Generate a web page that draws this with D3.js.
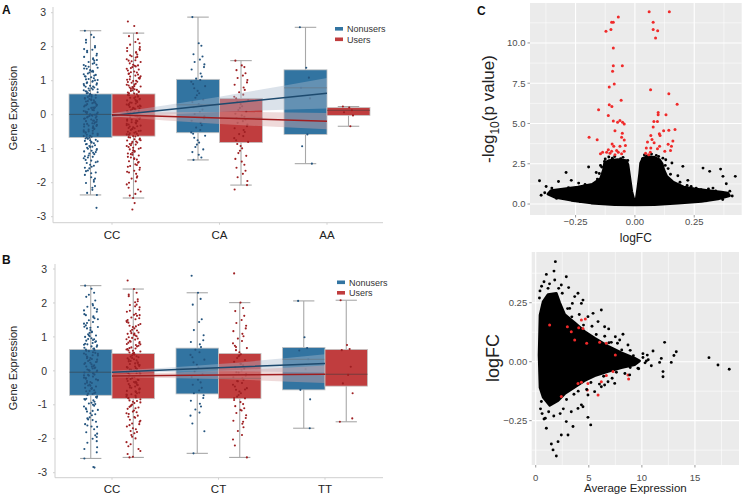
<!DOCTYPE html>
<html><head><meta charset="utf-8">
<script src="https://cdn.jsdelivr.net/npm/d3@7"></script>
<style>body{margin:0;background:#fff}text{font-family:"Liberation Sans",Arial,sans-serif}</style>
</head><body><svg id="c" width="748" height="502"></svg>
<script>
// ---------------- DATA ----------------
const catsA = ["CC","CA","AA"];
const catsB = ["CC","CT","TT"];
const seriesNames = ["Nonusers","Users"];
const boxTicks = [-3,-2,-1,0,1,2,3];

// box stats: [whiskerLow, q1, median, q3, whiskerHigh]
const statsANon = [[-2.36,-0.67,0.01,0.61,2.47],[-1.33,-0.53,0.29,1.04,2.87],[-1.44,-0.58,0.79,1.32,2.57]];
const statsAUsr = [[-2.45,-0.63,0.00,0.61,2.40],[-2.07,-0.82,-0.10,0.48,1.59],[-0.34,-0.02,0.13,0.21,0.24]];
const statsBNon = [[-2.58,-0.72,-0.04,0.63,2.51],[-2.43,-0.68,0.05,0.67,2.30],[-1.69,-0.56,0.34,0.69,2.06]];
const statsBUsr = [[-2.55,-0.82,-0.15,0.51,2.41],[-2.55,-0.82,-0.22,0.51,2.01],[-1.50,-0.45,-0.10,0.63,2.08]];

// individual expression values (strip points)
const ccNonA = [2.47,2.35,2.28,2.12,1.98,1.91,1.84,1.79,1.74,1.70,1.63,1.59,1.55,1.50,1.46,1.43,1.38,1.35,1.31,1.27,1.24,1.21,1.17,1.13,1.10,1.07,1.04,1.01,0.97,0.95,0.92,0.88,0.86,0.83,0.80,0.77,0.74,0.72,0.69,0.66,0.63,0.61,0.58,0.55,0.52,0.50,0.47,0.45,0.42,0.39,0.37,0.34,0.31,0.29,0.26,0.24,0.21,0.19,0.16,0.14,0.11,0.09,0.06,0.04,0.01,-0.01,-0.04,-0.06,-0.09,-0.11,-0.14,-0.17,-0.19,-0.22,-0.25,-0.27,-0.30,-0.33,-0.35,-0.38,-0.41,-0.44,-0.47,-0.50,-0.53,-0.56,-0.59,-0.62,-0.65,-0.68,-0.71,-0.74,-0.77,-0.80,-0.84,-0.87,-0.90,-0.94,-0.97,-1.01,-1.04,-1.08,-1.12,-1.16,-1.20,-1.24,-1.28,-1.33,-1.38,-1.42,-1.47,-1.53,-1.58,-1.64,-1.70,-1.77,-1.84,-1.92,-2.01,-2.10,-2.21,-2.30,-2.36,-2.74,1.93,1.66,1.52,1.41,1.29,1.19,1.12,1.02,0.93,0.85,0.78,0.71,0.64,0.57,0.49,0.43,0.36,0.28,0.22,0.15,0.08,0.02,-0.05,-0.12,-0.18,-0.26,-0.32,-0.39,-0.46,-0.52,-0.60,-0.67,-0.75,-0.82,-0.92,-1.00,-1.10,-1.22,-1.35,-1.50,-1.66,-1.88,-2.15,1.88,1.61,1.47,1.36,1.26,1.15,1.05,0.99,0.90,0.82,0.75,0.68,0.60,0.53,0.46,0.40,0.33,0.27,0.20,0.13,0.07,0.00,-0.03,-0.08,-0.15,-0.21,-0.28,-0.34,-0.42,-0.49,-0.55,-0.63,-0.70,-0.78,-0.86,-0.95,-1.06,-1.14,-1.26,-1.40,-1.56,-1.72,-1.97,2.20,2.02];
const ccUsrA = [2.74,2.61,2.40,2.31,2.22,2.14,2.06,1.99,1.93,1.87,1.82,1.77,1.72,1.68,1.63,1.59,1.55,1.51,1.47,1.44,1.40,1.37,1.33,1.30,1.27,1.24,1.21,1.18,1.15,1.12,1.09,1.06,1.03,1.00,0.97,0.94,0.91,0.88,0.86,0.83,0.80,0.78,0.75,0.72,0.70,0.67,0.65,0.62,0.60,0.57,0.55,0.52,0.50,0.47,0.45,0.42,0.40,0.37,0.35,0.33,0.30,0.28,0.25,0.23,0.20,0.18,0.16,0.13,0.11,0.08,0.06,0.03,0.01,-0.02,-0.04,-0.07,-0.09,-0.12,-0.14,-0.17,-0.19,-0.22,-0.24,-0.27,-0.29,-0.32,-0.35,-0.37,-0.40,-0.42,-0.45,-0.48,-0.50,-0.53,-0.56,-0.59,-0.61,-0.64,-0.67,-0.70,-0.73,-0.76,-0.79,-0.82,-0.85,-0.88,-0.92,-0.95,-0.98,-1.02,-1.05,-1.09,-1.12,-1.16,-1.20,-1.24,-1.28,-1.32,-1.37,-1.41,-1.46,-1.51,-1.56,-1.62,-1.68,-1.74,-1.81,-1.88,-1.96,-2.05,-2.15,-2.26,-2.38,-2.45,-2.60,-2.79,1.25,1.08,0.96,0.84,0.73,0.63,0.53,0.44,0.36,0.27,0.19,0.10,0.02,-0.06,-0.15,-0.23,-0.31,-0.39,-0.47,-0.55,-0.63,-0.72,-0.80,-0.90,-1.00,-1.14,-1.30,-1.48,-1.70,1.45,1.60,1.75,1.90,2.10,1.96,1.84,1.70,1.57,1.42,1.35,1.20,1.13,1.04,0.99,0.89,0.81,0.76,0.68,0.58,0.49,0.41,0.31,0.24,0.15,0.05,-0.01,-0.10,-0.18,-0.26,-0.34,-0.43,-0.51,-0.58,-0.66,-0.75,-0.86,-0.97,-1.07,-1.18,-1.26,-1.39,-1.53,-1.65,-1.85,-2.00,-2.20,-2.33];
const caNonA = [2.87,2.10,2.03,1.78,1.71,1.62,1.55,1.48,1.40,1.33,1.21,1.12,1.06,1.02,0.97,0.90,0.84,0.78,0.70,0.63,0.57,0.50,0.44,0.37,0.31,0.27,0.22,0.15,0.08,0.02,-0.05,-0.11,-0.18,-0.24,-0.31,-0.38,-0.45,-0.52,-0.56,-0.62,-0.68,-0.75,-0.82,-0.88,-0.95,-1.02,-1.10,-1.18,-1.26,-1.33];
const caUsrA = [1.59,1.45,1.40,1.31,1.22,1.15,1.08,1.02,0.95,0.88,0.80,0.73,0.66,0.59,0.53,0.48,0.43,0.37,0.31,0.25,0.20,0.14,0.09,0.03,-0.02,-0.06,-0.10,-0.14,-0.19,-0.24,-0.29,-0.34,-0.40,-0.45,-0.51,-0.57,-0.63,-0.69,-0.75,-0.80,-0.86,-0.92,-0.99,-1.06,-1.13,-1.21,-1.30,-1.38,-1.47,-1.56,-1.65,-1.74,-1.84,-1.95,-2.07,-2.20];
const aaNonA = [2.57,1.38,1.09,0.79,0.48,-0.58,-0.93,-1.44];
const aaUsrA = [0.24,0.21,0.13,0.07,-0.02,-0.34];

const ccNonB = [2.51,2.42,2.30,2.18,2.07,1.97,1.89,1.81,1.74,1.67,1.61,1.55,1.49,1.44,1.39,1.34,1.29,1.25,1.20,1.16,1.12,1.08,1.04,1.00,0.96,0.93,0.89,0.85,0.82,0.78,0.75,0.71,0.68,0.65,0.61,0.58,0.55,0.51,0.48,0.45,0.42,0.38,0.35,0.32,0.29,0.26,0.23,0.19,0.16,0.13,0.10,0.07,0.04,0.01,-0.02,-0.05,-0.08,-0.11,-0.14,-0.17,-0.20,-0.23,-0.27,-0.30,-0.33,-0.36,-0.40,-0.43,-0.46,-0.50,-0.53,-0.57,-0.60,-0.64,-0.68,-0.71,-0.75,-0.79,-0.83,-0.87,-0.91,-0.96,-1.00,-1.05,-1.10,-1.15,-1.20,-1.25,-1.31,-1.37,-1.43,-1.50,-1.57,-1.64,-1.72,-1.81,-1.90,-2.00,-2.12,-2.25,-2.40,-2.58,-2.83,-2.85,1.05,0.91,0.77,0.63,0.50,0.37,0.24,0.12,0.00,-0.12,-0.25,-0.38,-0.52,-0.66,-0.82,-0.98,-1.18,-1.40,-1.65,-1.95,1.30,1.58,1.85,2.24,1.93,1.78,1.64,1.52,1.41,1.27,1.14,1.02,0.94,0.87,0.80,0.72,0.66,0.59,0.53,0.46,0.40,0.33,0.27,0.20,0.14,0.08,0.02,-0.07,-0.13,-0.21,-0.28,-0.35,-0.44,-0.51,-0.59,-0.67,-0.77,-0.85,-0.94,-1.03,-1.13,-1.28,-1.45,-1.61,-1.85,-2.07,-2.30];
const ccUsrB = [2.66,2.41,2.30,2.20,2.11,2.02,1.94,1.87,1.80,1.74,1.68,1.62,1.57,1.52,1.47,1.42,1.38,1.33,1.29,1.25,1.21,1.17,1.13,1.09,1.06,1.02,0.99,0.95,0.92,0.88,0.85,0.82,0.79,0.76,0.72,0.69,0.66,0.63,0.60,0.57,0.54,0.51,0.48,0.45,0.42,0.40,0.37,0.34,0.31,0.28,0.25,0.22,0.20,0.17,0.14,0.11,0.08,0.05,0.03,0.00,-0.03,-0.06,-0.09,-0.12,-0.15,-0.18,-0.21,-0.24,-0.27,-0.30,-0.33,-0.36,-0.39,-0.42,-0.46,-0.49,-0.52,-0.55,-0.59,-0.62,-0.66,-0.69,-0.73,-0.76,-0.80,-0.84,-0.87,-0.91,-0.95,-0.99,-1.04,-1.08,-1.12,-1.17,-1.22,-1.27,-1.32,-1.38,-1.44,-1.50,-1.57,-1.64,-1.72,-1.80,-1.89,-1.99,-2.10,-2.22,-2.36,-2.55,-2.53,1.10,0.97,0.86,0.74,0.64,0.53,0.43,0.33,0.23,0.13,0.04,-0.05,-0.14,-0.23,-0.32,-0.41,-0.50,-0.60,-0.70,-0.81,-0.93,-1.06,-1.20,-1.36,-1.55,-1.77,1.35,1.50,1.65,1.95,2.25,2.05,1.90,1.77,1.64,1.55,1.44,1.31,1.19,1.11,1.04,0.93,0.83,0.78,0.67,0.59,0.49,0.38,0.29,0.18,0.09,0.01,-0.07,-0.17,-0.26,-0.35,-0.44,-0.53,-0.64,-0.71,-0.78,-0.89,-1.01,-1.10,-1.25,-1.35,-1.47,-1.60,-1.69,-1.84,-1.94,-2.16,-2.30,-2.45];
const ctNonB = [2.80,2.30,2.12,1.95,1.52,1.44,1.20,1.05,0.90,0.85,0.78,0.70,0.62,0.55,0.47,0.40,0.33,0.25,0.18,0.10,0.05,-0.02,-0.10,-0.18,-0.26,-0.34,-0.41,-0.50,-0.58,-0.66,-0.72,-0.80,-0.88,-0.97,-1.05,-1.14,-1.23,-1.32,-1.55,-1.78,-2.43];
const ctUsrB = [2.87,2.01,1.85,1.76,1.62,1.50,1.41,1.33,1.25,1.17,1.09,1.02,0.95,0.88,0.81,0.74,0.67,0.61,0.55,0.49,0.43,0.38,0.32,0.27,0.21,0.16,0.11,0.06,0.01,-0.04,-0.09,-0.14,-0.19,-0.22,-0.26,-0.31,-0.36,-0.41,-0.46,-0.51,-0.56,-0.61,-0.66,-0.71,-0.76,-0.81,-0.86,-0.92,-0.98,-1.04,-1.10,-1.17,-1.24,-1.31,-1.39,-1.47,-1.56,-1.66,-1.77,-1.89,-2.02,-2.20,-2.55,0.70,0.45,0.20,-0.05,-0.30,-0.55,-0.80,-1.15,-1.50];
const ttNonB = [2.06,0.99,0.67,0.60,0.34,0.05,-0.56,-0.84,-1.69];
const ttUsrB = [2.08,0.76,0.64,0.61,0.12,-0.12,-0.37,-0.66,-1.40,-1.50];

// regression fit values at each genotype, with confidence band
const fitANon = [-0.02,0.305,0.63], bandANonLo = [-0.08,0.08,0.18], bandANonHi = [0.04,0.53,1.08];
const fitAUsr = [0.00,-0.095,-0.19], bandAUsrLo = [-0.05,-0.27,-0.43], bandAUsrHi = [0.05,0.08,0.05];
const fitBNon = [-0.04,0.09,0.22], bandBNonLo = [-0.08,-0.01,-0.05], bandBNonHi = [0.00,0.20,0.49];
const fitBUsr = [-0.15,-0.125,-0.10], bandBUsrLo = [-0.19,-0.24,-0.36], bandBUsrHi = [-0.11,0.00,0.16];

// volcano: dense cloud outline [logFC, -log10 p]
const volcCloud = [[0,0.05],[0.006,0.37],[0.013,1.10],[0.020,1.92],[0.024,2.55],[0.034,2.85],[0.055,2.95],[0.083,2.9],[0.104,2.75],[0.115,2.5],[0.122,2.13],[0.134,1.72],[0.160,1.38],[0.205,1.06],[0.251,0.94],[0.308,0.84],[0.364,0.74],[0.392,0.68],[0.399,0.52],[0.350,0.31],[0.280,0.16],[0.181,0.06],[0.083,-0.04],[0,-0.06],[-0.086,-0.04],[-0.184,0.06],[-0.268,0.23],[-0.339,0.43],[-0.367,0.62],[-0.353,0.84],[-0.296,0.94],[-0.240,1.05],[-0.180,1.22],[-0.145,1.58],[-0.133,2.10],[-0.128,2.55],[-0.110,2.70],[-0.072,2.76],[-0.037,2.70],[-0.029,2.45],[-0.022,1.72],[-0.013,0.78],[-0.004,0.27]];
const volcBlackFC = [-0.402,-0.374,-0.35,-0.322,-0.29,-0.268,-0.237,-0.195,-0.163,-0.177,-0.128,0.156,0.202,0.181,0.223,0.287,0.315,0.361,0.371,0.385,0.423,0.329,0.258,0.279,0.237,-0.145,-0.15,-0.158,-0.2,-0.26,-0.31,-0.38,-0.395,-0.33,-0.23,0.13,0.14,0.15,0.19,0.26,0.34,0.40,0.41,0.37,0.30,-0.11,-0.085,-0.05,0.04,0.07,0.10,-0.03,0.032,-0.125,-0.095,-0.06,0.05,0.09,0.118,-0.14,0.128,-0.21,0.22,-0.28,0.31];
const volcBlackP  = [1.45,1.09,0.99,1.40,1.96,1.47,1.30,2.30,1.96,1.20,2.65,2.55,2.34,1.76,1.47,2.23,2.03,2.17,1.72,1.26,1.72,0.99,0.99,0.89,1.09,2.40,1.90,1.55,1.15,0.95,0.85,0.70,0.55,0.35,0.15,2.75,2.20,1.85,1.35,0.82,0.82,0.80,0.50,0.28,0.20,2.92,2.95,2.90,3.05,3.10,2.95,2.70,2.80,2.80,2.85,2.82,2.98,3.02,2.85,2.30,2.40,1.22,1.15,1.02,0.93];
const volcRedFC = [-0.070,-0.091,-0.098,-0.101,-0.122,-0.091,-0.091,-0.053,-0.094,-0.087,-0.108,-0.058,-0.153,-0.108,-0.097,-0.112,-0.091,-0.063,-0.052,-0.073,-0.045,-0.084,-0.053,-0.193,-0.159,-0.056,-0.045,-0.096,-0.089,-0.063,-0.040,-0.112,-0.098,-0.077,-0.119,-0.145,-0.136,-0.070,-0.056,-0.045,-0.084,-0.105,0.060,0.145,0.077,0.077,0.096,0.087,0.066,0.143,0.178,0.098,0.098,0.131,0.080,0.095,0.077,0.169,0.143,0.121,0.103,0.106,0.067,0.072,0.160,0.053,0.081,0.140,0.048,0.067,0.104,0.154,0.095,0.126,0.150,0.065,0.058,0.045];
const volcRedP  = [11.61,11.28,11.28,10.83,10.72,9.69,8.59,8.59,8.24,7.45,7.27,6.44,5.86,6.17,6.06,5.50,5.16,5.19,5.07,5.07,4.97,4.55,4.39,4.14,3.99,4.14,3.97,3.73,3.59,3.59,3.63,3.37,3.27,3.33,3.21,3.12,3.21,3.21,3.12,3.27,3.06,3.16,11.93,11.93,11.28,10.83,10.76,10.31,7.10,6.85,6.19,5.69,5.55,5.55,5.13,5.13,4.78,4.62,4.58,4.55,4.37,4.25,4.25,4.00,3.92,3.85,3.81,3.71,3.48,3.48,3.59,3.59,3.43,3.27,3.33,3.21,3.06,3.16];

// MA plot: dense cloud outline [AveExpr, logFC]
const maCloud = [[0.40,0.198],[0.69,0.254],[1.16,0.285],[1.94,0.290],[2.26,0.250],[2.73,0.200],[3.67,0.165],[4.61,0.128],[5.55,0.100],[6.81,0.066],[8.06,0.038],[9.32,0.015],[9.79,0.003],[9.32,-0.013],[8.06,-0.026],[6.81,-0.042],[5.55,-0.060],[4.61,-0.080],[3.67,-0.108],[2.73,-0.136],[2.10,-0.165],[1.32,-0.185],[0.69,-0.150],[0.40,-0.110],[0.31,0.028]];
const maBlackA = [1.85,1.00,1.72,1.79,2.88,2.41,3.10,3.98,4.45,4.30,3.45,6.18,4.92,6.49,6.87,7.50,8.22,7.91,7.12,8.69,12.14,13.24,11.05,13.02,10.10,10.51,11.83,10.42,12.77,11.67,10.89,11.99,11.99,16.32,17.17,18.23,8.69,7.44,6.49,5.55,4.92,4.30,3.98,3.35,2.88,3.04,2.41,2.10,1.63,1.94,1.47,0.78,1.00,5.18,4.92,3.51,4.45,1.22,0.53,0.78,1.16,2.16,6.18,6.81,8.85,9.63,7.12,5.87,5.40,3.67,3.20,3.0,3.4,4.1,4.5,5.3,5.7,6.5,6.9,7.7,8.1,8.9,9.2,10.1,10.6,2.9,3.6,4.0,4.8,5.2,6.0,6.4,7.2,7.6,8.4,8.9,9.7,10.3,0.35,0.40,0.55,1.30,2.50,0.45,0.60,0.90,1.70,2.30,2.60];
const maBlackFC = [0.424,0.370,0.384,0.346,0.360,0.325,0.314,0.290,0.261,0.247,0.247,0.219,0.191,0.148,0.139,0.106,0.116,0.092,0.082,0.071,0.082,0.042,0.045,0.026,0.034,0.028,0.014,0.003,-0.003,-0.003,-0.017,-0.042,-0.064,0.017,-0.014,-0.032,-0.014,-0.092,-0.099,-0.127,-0.141,-0.183,-0.198,-0.212,-0.254,-0.311,-0.311,-0.339,-0.374,-0.400,-0.349,-0.243,-0.282,-0.268,-0.236,-0.275,-0.191,-0.212,-0.169,0.339,0.311,0.311,-0.106,-0.085,-0.056,-0.028,0.014,0.170,0.205,0.276,0.226,0.225,0.19,0.20,0.155,0.15,0.115,0.108,0.08,0.078,0.05,0.048,0.025,0.018,0.008,-0.16,-0.138,-0.125,-0.118,-0.088,-0.095,-0.062,-0.07,-0.045,-0.05,-0.025,-0.03,-0.005,0.27,0.30,0.32,0.33,0.29,-0.20,-0.22,-0.24,-0.23,-0.22,-0.20];
const maRedA  = [4.30,4.67,4.05,4.45,2.98,3.67,4.80,6.02,6.65,7.50,6.18,6.65,7.28,8.75,8.69,4.92,4.30,5.87,4.86,2.41,3.98,1.31,3.35];
const maRedFC = [0.177,0.181,0.144,0.141,0.148,0.092,0.078,0.082,0.078,0.028,-0.085,-0.059,-0.042,-0.073,-0.056,-0.092,-0.087,-0.141,-0.120,-0.148,-0.092,0.155,0.127];

const volcXTicks = [-0.25,0,0.25], volcYTicks = [0,2.5,5,7.5,10];
const maXTicks = [0,5,10,15], maYTicks = [-0.25,0,0.25];

// ---------------- DRAW ----------------
const svg = d3.select("#c");
const boxFill = ["#3274a1","#c03d3e"];
const dotFill = ["#24547e","#9e1f22"];
const lineCol = ["#1d4a6e","#a11d1f"];
const bandFill = ["#a9b9cc","#d8a8a8"];
const jit = [-0.75,0.35,-0.15,0.85,-0.5,0.6,-0.9,0.1,0.5,-0.35,0.8,-0.05,0.25,-0.65,0.45,-0.25,0.7,-0.85,0.15,-0.45,0.95,-0.6,0.3];

function boxPanel(P){
  const g = svg.append("g");
  const y = d3.scaleLinear().domain([-3,3]).range(P.yr);
  const x = d3.scalePoint().domain(P.cats).range(P.xr);
  const bw = P.bw;
  g.append("line").attr("x1",P.ax).attr("x2",P.ax).attr("y1",P.atop).attr("y2",P.abot).attr("stroke","#cfcfcf").attr("stroke-width",1);
  g.append("line").attr("x1",P.ax).attr("x2",P.aright).attr("y1",P.abot).attr("y2",P.abot).attr("stroke","#cfcfcf").attr("stroke-width",1);
  boxTicks.forEach(t=>{
    g.append("line").attr("x1",P.ax-2).attr("x2",P.ax).attr("y1",y(t)).attr("y2",y(t)).attr("stroke","#d0d0d0");
    g.append("text").attr("x",P.tx).attr("y",y(t)).attr("dy","0.35em").attr("text-anchor","end")
      .attr("font-size",10.5).attr("fill","#333").text(t);
  });
  P.cats.forEach(c=>{
    g.append("line").attr("x1",x(c)).attr("x2",x(c)).attr("y1",P.abot).attr("y2",P.abot+2).attr("stroke","#d0d0d0");
    g.append("text").attr("x",x(c)).attr("y",P.xly).attr("text-anchor","middle").attr("font-size",11.5).attr("fill","#222").text(c);
  });
  g.append("text").attr("transform",`translate(${P.ytx},${P.ytY}) rotate(-90)`).attr("text-anchor","middle")
    .attr("font-size",11).attr("fill","#222").text("Gene Expression");
  g.append("text").attr("x",2).attr("y",P.labY).attr("font-size",12).attr("font-weight","bold").attr("fill","#111").text(P.label);

  [P.statsN,P.statsU].forEach((stats,s)=>{
    stats.forEach((st,i)=>{
      const cx = x(P.cats[i]) + (s===0?-bw/2:bw/2);
      const wc = "#a8a8a8";
      g.append("line").attr("x1",cx).attr("x2",cx).attr("y1",y(st[4])).attr("y2",y(st[0])).attr("stroke",wc).attr("stroke-width",1.1);
      [st[0],st[4]].forEach(v=>g.append("line").attr("x1",cx-bw/4).attr("x2",cx+bw/4).attr("y1",y(v)).attr("y2",y(v)).attr("stroke",wc).attr("stroke-width",1.1));
      g.append("rect").attr("x",cx-bw/2).attr("width",bw).attr("y",y(st[3])).attr("height",y(st[1])-y(st[3]))
        .attr("fill",boxFill[s]).attr("stroke","#c4c4c4").attr("stroke-width",0.8);
      g.append("line").attr("x1",cx-bw/2).attr("x2",cx+bw/2).attr("y1",y(st[2])).attr("y2",y(st[2])).attr("stroke","#3a3a3a").attr("stroke-opacity",0.55).attr("stroke-width",1);
    });
  });
  [P.ptsN,P.ptsU].forEach((lists,s)=>{
    lists.forEach((vals,i)=>{
      const cx = x(P.cats[i]) + (s===0?-bw/2:bw/2);
      g.append("g").selectAll("circle").data(vals).enter().append("circle")
        .attr("cx",(d,k)=>cx + jit[(k*7)%jit.length]*7.5).attr("cy",d=>y(d)).attr("r",1.05).attr("fill",dotFill[s]);
    });
  });
  const idx = [0,1,2];
  P.bands.forEach((b,s)=>{
    const area = d3.area().x(i=>x(P.cats[i])).y0(i=>y(b[0][i])).y1(i=>y(b[1][i])).curve(d3.curveMonotoneX);
    g.append("path").attr("d",area(idx)).attr("fill",bandFill[s]).attr("fill-opacity",0.42);
  });
  P.fits.forEach((f,s)=>{
    const ln = d3.line().x(i=>x(P.cats[i])).y(i=>y(f[i]));
    g.append("path").attr("d",ln(idx)).attr("fill","none").attr("stroke",lineCol[s]).attr("stroke-width",1.5);
  });
  seriesNames.forEach((n,s)=>{
    const ly = P.legY + s*10.5;
    g.append("rect").attr("x",P.legX).attr("y",ly-2).attr("width",8).attr("height",3.6).attr("fill",boxFill[s]);
    g.append("text").attr("x",P.legX+12).attr("y",ly).attr("dy","0.35em").attr("font-size",9).attr("fill","#333").text(n);
  });
}

boxPanel({cats:catsA, yr:[216.7,12.7], xr:[112,327], bw:43, ax:53, atop:7, abot:222.7, aright:383, tx:46, xly:239,
  ytx:17, ytY:108, label:"A", labY:13.5,
  statsN:statsANon, statsU:statsAUsr, ptsN:[ccNonA,caNonA,aaNonA], ptsU:[ccUsrA,caUsrA,aaUsrA],
  bands:[[bandANonLo,bandANonHi],[bandAUsrLo,bandAUsrHi]], fits:[fitANon,fitAUsr], legX:335, legY:29});
boxPanel({cats:catsB, yr:[472.7,269], xr:[112,325], bw:42.5, ax:55, atop:264, abot:477.7, aright:383, tx:47, xly:493,
  ytx:17, ytY:368, label:"B", labY:263.5,
  statsN:statsBNon, statsU:statsBUsr, ptsN:[ccNonB,ctNonB,ttNonB], ptsU:[ccUsrB,ctUsrB,ttUsrB],
  bands:[[bandBNonLo,bandBNonHi],[bandBUsrLo,bandBUsrHi]], fits:[fitBNon,fitBUsr], legX:337, legY:282.5});

function ggPanel(P){
  const g = svg.append("g");
  const x = d3.scaleLinear().domain(P.xd).range(P.xr);
  const y = d3.scaleLinear().domain(P.yd).range(P.yr);
  g.append("rect").attr("x",P.xr[0]).attr("y",P.yr[1]).attr("width",P.xr[1]-P.xr[0]).attr("height",P.yr[0]-P.yr[1]).attr("fill","#ebebeb");
  const mid = a=>a.slice(0,-1).map((t,i)=>(t+a[i+1])/2);
  const step = a=>a[1]-a[0];
  const xMinor = [P.xt[0]-step(P.xt)/2, ...mid(P.xt), P.xt[P.xt.length-1]+step(P.xt)/2].filter(v=>v>P.xd[0]&&v<P.xd[1]);
  const yMinor = [P.yt[0]-step(P.yt)/2, ...mid(P.yt), P.yt[P.yt.length-1]+step(P.yt)/2].filter(v=>v>P.yd[0]&&v<P.yd[1]);
  xMinor.forEach(v=>g.append("line").attr("x1",x(v)).attr("x2",x(v)).attr("y1",P.yr[0]).attr("y2",P.yr[1]).attr("stroke","#fff").attr("stroke-width",0.55));
  yMinor.forEach(v=>g.append("line").attr("y1",y(v)).attr("y2",y(v)).attr("x1",P.xr[0]).attr("x2",P.xr[1]).attr("stroke","#fff").attr("stroke-width",0.55));
  P.xt.forEach(v=>g.append("line").attr("x1",x(v)).attr("x2",x(v)).attr("y1",P.yr[0]).attr("y2",P.yr[1]).attr("stroke","#fff").attr("stroke-width",1.1));
  P.yt.forEach(v=>g.append("line").attr("y1",y(v)).attr("y2",y(v)).attr("x1",P.xr[0]).attr("x2",P.xr[1]).attr("stroke","#fff").attr("stroke-width",1.1));
  const cl = d3.line().x(d=>x(d[0])).y(d=>y(d[1])).curve(d3.curveLinearClosed);
  g.append("path").attr("d",cl(P.cloud)).attr("fill","#000").attr("stroke","#000").attr("stroke-width",2.6).attr("stroke-linejoin","round");
  const blk = ()=>g.append("g").selectAll("circle").data(P.blkX).enter().append("circle").attr("cx",d=>x(d)).attr("cy",(d,i)=>y(P.blkY[i])).attr("r",1.45).attr("fill","#000");
  const red = ()=>g.append("g").selectAll("circle").data(P.redX).enter().append("circle").attr("cx",d=>x(d)).attr("cy",(d,i)=>y(P.redY[i])).attr("r",1.5).attr("fill","#f02a2a");
  if(P.redFirst){ red(); blk(); } else { blk(); red(); }
  P.xt.forEach(v=>{
    g.append("line").attr("x1",x(v)).attr("x2",x(v)).attr("y1",P.yr[0]).attr("y2",P.yr[0]+2.5).attr("stroke","#555").attr("stroke-width",0.6);
    g.append("text").attr("x",x(v)).attr("y",P.xtY).attr("text-anchor","middle").attr("font-size",9.5).attr("fill","#4d4d4d").text(P.xfmt(v));
  });
  P.yt.forEach(v=>{
    g.append("line").attr("x1",P.xr[0]-2.5).attr("x2",P.xr[0]).attr("y1",y(v)).attr("y2",y(v)).attr("stroke","#555").attr("stroke-width",0.6);
    g.append("text").attr("x",P.xr[0]-4.5).attr("y",y(v)).attr("dy","0.35em").attr("text-anchor","end").attr("font-size",9.5).attr("fill","#4d4d4d").text(P.yfmt(v));
  });
  g.append("text").attr("x",(P.xr[0]+P.xr[1])/2).attr("y",P.xTitleY).attr("text-anchor","middle").attr("font-size",P.xTitleSize).attr("fill","#222").text(P.xTitle);
  return g;
}

const gV = ggPanel({xd:[-0.442,0.450], xr:[530,741.7], yd:[-0.68,12.48], yr:[215,3], xt:volcXTicks, yt:volcYTicks,
  cloud:volcCloud, blkX:volcBlackFC, blkY:volcBlackP, redX:volcRedFC, redY:volcRedP, redFirst:false,
  xfmt:d3.format(".2f"), yfmt:d3.format(".1f"), xtY:225, xTitle:"logFC", xTitleY:242, xTitleSize:12});
const yl = gV.append("text").attr("transform","translate(494,109) rotate(-90)").attr("text-anchor","middle").attr("font-size",17).attr("fill","#222");
yl.append("tspan").text("-log");
yl.append("tspan").attr("font-size",12).attr("dy",5).text("10");
yl.append("tspan").attr("dy",-5).text("(p value)");
svg.append("text").attr("x",477).attr("y",15).attr("font-size",12).attr("font-weight","bold").attr("fill","#111").text("C");

const gM = ggPanel({xd:[-0.38,19.15], xr:[531.7,739], yd:[-0.438,0.465], yr:[465,252], xt:maXTicks, yt:maYTicks,
  cloud:maCloud, blkX:maBlackA, blkY:maBlackFC, redX:maRedA, redY:maRedFC, redFirst:true,
  xfmt:d3.format("d"), yfmt:d3.format(".2f"), xtY:481, xTitle:"Average Expression", xTitleY:492, xTitleSize:11.5});
gM.append("text").attr("transform","translate(499,358) rotate(-90)").attr("text-anchor","middle").attr("font-size",18).attr("fill","#222").text("logFC");
</script></body></html>
